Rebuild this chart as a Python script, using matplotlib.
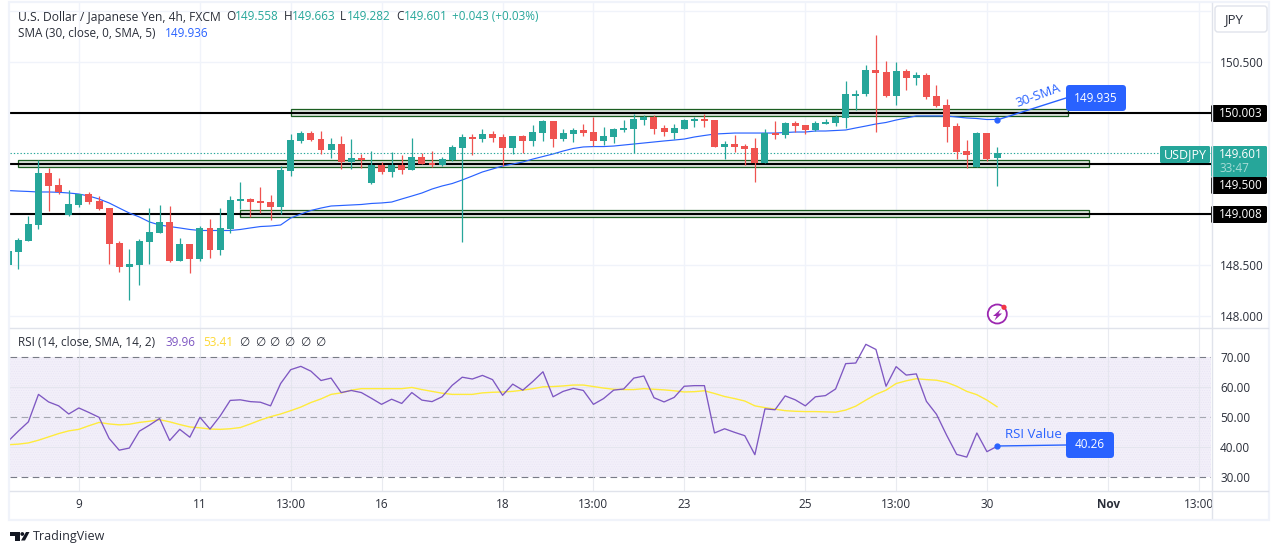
import numpy as np
import matplotlib
matplotlib.use('Agg')
import matplotlib.pyplot as plt
from matplotlib.patches import Rectangle, FancyBboxPatch, Circle, Polygon

W, H = 1281, 554
plt.rcParams['font.family'] = ['Open Sans', 'DejaVu Sans']
plt.rcParams['hatch.linewidth'] = 0.3

#%% data, 4h candles
opens = [148.50,148.63,148.74,148.90,149.41,149.29,148.99,149.09,149.20,149.13,149.06,148.72,148.48,148.50,148.73,148.82,148.93,148.54,148.71,148.56,
         148.87,148.65,148.86,149.13,149.15,149.13,149.12,149.07,149.43,149.72,149.80,149.74,149.63,149.69,149.52,149.56,149.31,149.49,149.42,149.49,
         149.44,149.57,149.51,149.49,149.54,149.65,149.76,149.74,149.79,149.76,149.65,149.77,149.72,149.80,149.92,149.74,149.79,149.83,149.81,149.72,
         149.76,149.83,149.84,149.93,149.96,149.85,149.80,149.84,149.92,149.94,149.93,149.66,149.69,149.67,149.65,149.51,149.80,149.78,149.90,149.88,
         149.83,149.89,149.90,149.95,150.17,150.19,150.42,150.40,150.17,150.41,150.34,150.37,150.17,150.08,149.87,149.62,149.47,149.80,149.558]
highs = [148.64,148.77,148.98,149.54,149.46,149.36,149.24,149.20,149.22,149.18,149.06,148.74,148.66,148.76,149.06,149.09,149.08,148.77,148.71,148.89,
         148.96,149.06,149.18,149.32,149.16,149.27,149.19,149.48,149.79,149.82,149.82,149.82,149.75,149.77,149.74,149.59,149.62,149.52,149.61,149.58,
         149.75,149.60,149.62,149.57,149.68,149.79,149.79,149.84,149.82,149.79,149.77,149.78,149.88,149.93,149.92,149.84,149.85,149.89,149.96,149.86,
         149.85,149.93,149.99,149.98,149.98,149.88,149.89,149.94,149.96,149.99,149.93,149.72,149.78,149.69,149.75,149.84,149.92,149.91,149.92,149.88,
         149.92,149.94,149.98,150.31,150.22,150.47,150.77,150.51,150.50,150.43,150.40,150.39,150.27,150.14,149.90,149.73,149.81,149.80,149.663]
lows = [148.50,148.46,148.74,148.86,149.03,149.20,148.98,149.07,149.10,149.04,148.51,148.43,148.16,148.31,148.51,148.82,148.53,148.54,148.42,148.54,
        148.57,148.60,148.82,149.05,148.97,149.01,148.95,149.00,149.38,149.70,149.72,149.59,149.56,149.45,149.45,149.46,149.30,149.40,149.37,149.40,
        149.44,149.50,149.47,149.48,149.53,148.73,149.58,149.71,149.71,149.48,149.59,149.60,149.67,149.72,149.66,149.72,149.71,149.77,149.67,149.68,
        149.70,149.81,149.60,149.88,149.79,149.77,149.74,149.84,149.86,149.86,149.66,149.55,149.61,149.49,149.32,149.51,149.74,149.75,149.81,149.79,
        149.82,149.89,149.87,149.85,150.03,150.17,149.81,150.16,150.08,150.22,150.27,150.14,150.06,149.71,149.55,149.46,149.47,149.53,149.282]
closes = [148.64,148.75,148.91,149.41,149.28,149.22,149.10,149.20,149.12,149.05,148.71,148.48,148.51,148.74,148.83,148.93,148.54,148.71,148.56,148.87,
          148.65,148.87,149.14,149.15,149.12,149.11,149.07,149.44,149.73,149.80,149.73,149.63,149.69,149.52,149.56,149.54,149.49,149.42,149.49,149.44,
          149.57,149.50,149.49,149.55,149.66,149.76,149.74,149.79,149.75,149.65,149.77,149.72,149.81,149.92,149.74,149.80,149.83,149.80,149.72,149.77,
          149.84,149.85,149.94,149.96,149.84,149.81,149.85,149.93,149.94,149.92,149.66,149.69,149.66,149.64,149.51,149.80,149.78,149.90,149.87,149.83,
          149.90,149.91,149.96,150.19,150.19,150.42,150.39,150.17,150.41,150.34,150.37,150.16,150.07,149.86,149.61,149.58,149.80,149.55,149.601]

sma30 = [149.235,149.23,149.226,149.221,149.221,149.218,149.211,149.201,149.181,149.152,149.113,149.063,149.014,148.975,148.926,148.896,148.881,148.867,148.852,148.842,
         148.842,148.842,148.842,148.852,148.867,148.881,148.886,148.896,148.965,149.004,149.039,149.063,149.083,149.088,149.093,149.098,149.108,149.113,149.122,149.152,
         149.181,149.211,149.25,149.28,149.304,149.339,149.378,149.418,149.447,149.477,149.496,149.516,149.545,149.57,149.595,149.624,149.649,149.664,149.668,149.668,
         149.673,149.683,149.693,149.703,149.713,149.723,149.732,149.742,149.762,149.777,149.791,149.796,149.801,149.801,149.801,149.801,149.801,149.806,149.811,149.811,
         149.821,149.821,149.826,149.831,149.851,149.87,149.89,149.905,149.929,149.949,149.969,149.969,149.969,149.969,149.959,149.949,149.944,149.934,149.935]

rsi = [42.0,45.3,48.4,57.5,55.0,53.7,51.0,53.0,51.5,49.9,42.9,39.0,39.7,45.3,47.3,49.5,42.2,45.9,43.3,49.9,
       46.0,50.3,55.5,55.7,55.1,54.9,53.7,61.1,65.7,66.8,65.2,62.1,62.9,58.1,58.8,58.1,56.2,54.2,55.9,54.5,58.1,
       55.6,55.1,56.7,60.5,63.2,62.6,63.8,62.4,57.2,60.9,58.9,61.8,65.0,56.7,58.5,59.5,58.8,54.2,56.1,58.9,59.3,
       62.9,63.6,56.4,55.0,56.5,60.2,60.4,60.4,44.7,46.1,44.9,43.8,37.5,52.7,52.4,57.0,55.7,53.7,56.7,57.1,59.3,
       67.7,67.9,74.1,72.4,60.2,66.7,63.9,64.3,55.2,50.9,44.0,37.6,36.7,44.7,38.5,40.26]
rsi_ma = [40.8,41.0,41.4,42.3,43.4,44.5,45.4,45.9,47.1,48.2,47.7,47.4,47.6,48.2,48.6,49.1,48.4,47.5,46.7,46.4,
          46.0,45.9,46.1,46.5,47.7,49.0,50.1,51.0,52.1,53.3,54.8,56.0,57.5,58.0,58.9,59.4,59.4,59.4,59.4,59.4,59.8,
          59.1,58.5,57.9,57.5,57.5,57.5,58.0,58.2,58.3,58.5,58.9,59.4,60.0,60.1,60.3,60.6,60.6,60.1,59.6,59.2,59.1,
          59.1,59.4,59.2,59.0,58.7,58.3,58.4,58.7,57.8,56.8,56.1,55.3,53.7,53.1,52.6,52.1,51.9,51.8,51.8,51.7,51.6,
          52.3,53.6,55.6,57.5,58.9,61.1,62.0,62.7,62.4,62.2,61.5,60.2,58.5,57.4,55.6,53.41]

levels = [150.003, 149.500, 149.008]
zones = [(27, 104.0, 149.968, 150.038), (0, 106.1, 149.467, 149.537), (22, 106.1, 148.973, 149.043)]
price_ticks = [148.0, 148.5, 149.0, 149.5, 150.0, 150.5, 151.0]
price_labels = ['148.000', '148.500', '', '', '', '150.500', '']
rsi_ticks = [30, 40, 50, 60, 70]
time_pos = [6, 18, 27, 36, 48, 57, 66, 78, 87, 96, 108, 117]
time_labels = ['9', '11', '13:00', '16', '18', '13:00', '23', '25', '13:00', '30', 'Nov', '13:00']

GREEN, RED, BLUE = '#26a69a', '#ef5350', '#2962ff'
DARK, GRID, LINE = '#2a2e39', '#f0f3fa', '#e0e3eb'
FS = 8.5

t = np.arange(len(closes)) - 1

fig = plt.figure(figsize=(W/100, H/100), dpi=100, facecolor='white')

def axes_px(x0, y0, x1, y1):
    return fig.add_axes([x0/W, 1 - y1/H, (x1-x0)/W, (y1-y0)/H])

# k -> pixel: x = 18.3 + 10.09 k
xlim = ((10-18.3)/10.09, (1211-18.3)/10.09)

#%% price panel
ax = axes_px(10, 2, 1211, 328)
ax.set_xlim(*xlim)
ax.set_ylim(150.5 - (328-62)*0.00984, 150.5 + 60*0.00984)
ax.set_yticks(price_ticks)
ax.set_yticklabels(price_labels, color=DARK, fontsize=FS)
ax.yaxis.tick_right()
ax.set_xticks(time_pos)
ax.tick_params(axis='y', length=0, pad=6.5)
ax.tick_params(axis='x', length=0, labelbottom=False)
ax.grid(color=GRID, lw=1)
ax.set_axisbelow(True)
for s in ax.spines.values():
    s.set_visible(False)

for x0, x1, p0, p1 in zones:
    ax.add_patch(Rectangle((x0, p0), x1-x0, p1-p0, fc='#dce3dc', ec='#1b5e20', lw=0.9, zorder=1.9))
for lev in levels:
    ax.axhline(lev, color='black', lw=1.5, zorder=2)

ax.plot(t, sma30, color=BLUE, lw=0.85, zorder=3)
ax.axhline(closes[-1], color=GREEN, lw=0.8, ls=(0, (1.2, 1.8)), zorder=3)

cols = [GREEN if c >= o else RED for o, c in zip(opens, closes)]
ax.vlines(t, lows, highs, colors=cols, lw=0.9, zorder=4)
ax.bar(t, np.array(closes)-np.array(opens), bottom=opens, width=0.69, color=cols, lw=0, zorder=4)
ax.plot([t[-1]], [sma30[-1]-0.006], 'o', color=BLUE, ms=3.5, zorder=5)

#%% rsi panel
ax2 = axes_px(10, 328, 1211, 491)
ax2.set_xlim(*xlim)
ax2.set_ylim(70 - (491-356.7)/3.015, 70 + (356.7-328)/3.015)
ax2.add_patch(Rectangle((xlim[0], 30), xlim[1]-xlim[0], 40, fc='#f2eff9', ec='#e7e2f4', hatch='.......', lw=0, zorder=0))
ax2.set_yticks(rsi_ticks)
ax2.set_yticklabels(['%.2f' % v for v in rsi_ticks], color=DARK, fontsize=FS)
ax2.yaxis.tick_right()
ax2.set_xticks(time_pos)
ax2.set_xticklabels(time_labels, color=DARK, fontsize=FS)
ax2.get_xticklabels()[10].set_fontweight('bold')
ax2.tick_params(axis='y', length=0, pad=6.5)
ax2.tick_params(axis='x', length=0, pad=5)
ax2.grid(axis='x', color=LINE, lw=0.8, alpha=0.7)
ax2.set_axisbelow(False)
for s in ax2.spines.values():
    s.set_visible(False)
for lev in [40, 60]:
    ax2.axhline(lev, color=LINE, lw=0.8, alpha=0.7, zorder=1)
for lev, c in [(70, '#787b86'), (50, '#a5a7b0'), (30, '#787b86')]:
    ax2.axhline(lev, color=c, lw=0.8, ls=(0, (6, 4)), zorder=2)
ax2.plot(t, rsi_ma, color='#ffeb3b', lw=1.0, zorder=3)
ax2.plot(t, rsi, color='#7e57c2', lw=0.95, zorder=4)
ax2.plot([t[-1]], [rsi[-1]], 'o', color=BLUE, ms=3.5, zorder=5)

#%% overlay in pixel coords: frame, labels, annotations
ov = fig.add_axes([0, 0, 1, 1], zorder=10)
ov.set_xlim(0, W)
ov.set_ylim(H, 0)
ov.axis('off')

ov.add_patch(Rectangle((1211.5, 491.5), 56, 27, fc='white', ec='none'))
ov.plot([10, 1268], [328, 328], color=LINE, lw=1)
ov.plot([10, 1268], [491, 491], color=LINE, lw=1)
ov.plot([1211.5, 1211.5], [3, 518], color=LINE, lw=1)
ov.add_patch(Rectangle((9, 2), 1260, 517.5, fc='none', ec=GRID, lw=1.6))

def box(x0, y0, x1, y1, color, r=0):
    if r:
        ov.add_patch(FancyBboxPatch((x0+r, y0+r), x1-x0-2*r, y1-y0-2*r, boxstyle='round,pad=%g,rounding_size=%g' % (r, r),
                                    fc=color, ec='none'))
    else:
        ov.add_patch(Rectangle((x0, y0), x1-x0, y1-y0, fc=color, ec='none'))

def txt(x, y, s, color=DARK, size=FS, **kw):
    kw.setdefault('va', 'center')
    ov.text(x, y, s, color=color, fontsize=size, **kw)

# header
txt(18, 17, 'U.S. Dollar / Japanese Yen, 4h, FXCM', size=8.7)
for xl, lab, xv, val in [(226, 'O', 235, '149.558'), (284, 'H', 292, '149.663'), (340, 'L', 347, '149.282'), (396, 'C', 404, '149.601')]:
    txt(xl, 17, lab)
    txt(xv, 17, val, color=GREEN)
txt(452, 17, '+0.043 (+0.03%)', color=GREEN)
txt(18, 33.5, 'SMA (30, close, 0, SMA, 5)')
txt(165, 33.5, '149.936', color=BLUE)
txt(18, 343, 'RSI (14, close, SMA, 14, 2)')
txt(166, 343, '39.96', color='#7e57c2')
txt(203, 343, '53.41', color='#fdd835')
for xn in [244, 260, 274, 289, 305, 320]:
    txt(xn, 343, '\u2205', ha='center')

# JPY button
ov.add_patch(FancyBboxPatch((1218, 9), 46, 20, boxstyle='round,pad=3,rounding_size=3', fc='white', ec=LINE, lw=1))
txt(1224, 20, 'JPY', size=9.5)

# right side labels
box(1160, 146, 1210, 163, GREEN, r=1.5)
txt(1185, 154.5, 'USDJPY', color='white', ha='center', size=9)
box(1211, 146, 1267, 177, GREEN, r=1.5)
txt(1219, 154.5, '149.601', color='white')
txt(1219, 169, '33:47', color='#a8dcd6')
for y0, s in [(105, '150.003'), (177, '149.500'), (206, '149.008')]:
    box(1211, y0, 1267, y0+17, 'black', r=1.5)
    txt(1219, y0+8.5, s, color='white')

# 30-SMA callout
ov.plot([997, 1066], [120, 98], color=BLUE, lw=1)
txt(1038, 95.5, '30-SMA', color=BLUE, size=9.5, ha='center', rotation=20)
box(1066, 85, 1126, 111, BLUE, r=3.5)
txt(1096, 98, '149.935', color='white', ha='center')

# RSI callout
ov.plot([997, 1066], [446, 445], color=BLUE, lw=1)
txt(1033, 434, 'RSI Value', color=BLUE, size=9.5, ha='center')
box(1066, 432, 1114, 458, BLUE, r=3.5)
txt(1090, 445, '40.26', color='white', ha='center')

# lightning icon
ov.add_patch(Circle((997.3, 314), 9.5, fc='white', ec='#9c27b0', lw=1.3))
ov.add_patch(Polygon([(1001, 309), (993, 316), (996.5, 316), (994.5, 320.5), (1002, 313.5), (998.5, 313.5)], fc='#9c27b0', ec='none'))
ov.add_patch(Circle((1004, 307.3), 2.6, fc='#f23645', ec='none'))

# logo
ov.add_patch(Polygon([(10, 532), (19.5, 532), (19.5, 540.5), (14.5, 540.5), (14.5, 535.5), (10, 535.5)], fc='#131722', ec='none'))
ov.add_patch(Circle((22.3, 534), 1.9, fc='#131722', ec='none'))
ov.add_patch(Polygon([(26, 532), (29.5, 532), (25, 540.5), (21, 540.5)], fc='#131722', ec='none'))
txt(33, 536.5, 'TradingView', size=9.0, color='#2a2e39')

fig.savefig('out.png', dpi=100)
